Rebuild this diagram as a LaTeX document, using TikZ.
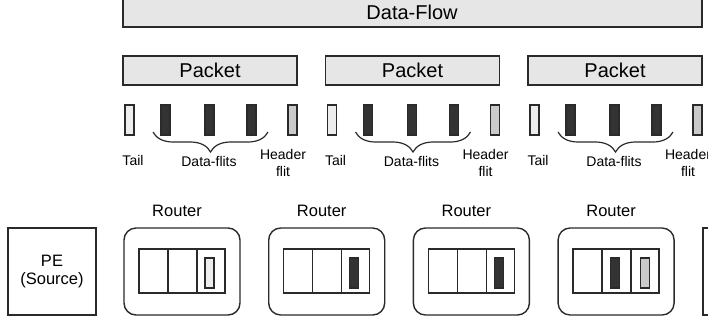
\documentclass[tikz,border=0pt]{standalone}
\usepackage{fontspec}
\setmainfont{Liberation Sans}
\usetikzlibrary{decorations.pathreplacing,patterns}
\definecolor{boxgray}{HTML}{E6E6E6}
\definecolor{edge}{HTML}{2A2A2A}
\definecolor{tailfill}{HTML}{EDEDED}
\definecolor{datafill}{HTML}{333333}
\definecolor{headfill}{HTML}{CACACA}
\begin{document}
\begin{tikzpicture}[x=1pt,y=-1pt,
  bigbox/.style={draw=edge,fill=boxgray,line width=1.4pt,inner sep=0pt,outer sep=0pt},
  flitbase/.style={draw=edge,line width=1.2pt,minimum width=9pt,minimum height=30pt,inner sep=0pt,outer sep=0pt},
  tailflit/.style={flitbase,fill=tailfill},
  dataflit/.style={flitbase,fill=datafill},
  headflit/.style={flitbase,fill=headfill},
  lbl/.style={font=\fontsize{14}{17}\selectfont,inner sep=0pt,align=center},
  rlbl/.style={font=\fontsize{16.5}{18}\selectfont,inner sep=0pt,align=center},
  bigtext/.style={font=\fontsize{20}{22}\selectfont,inner sep=0pt},
  router/.style={draw=edge,line width=1.4pt,rounded corners=12pt},
  plainbox/.style={draw=edge,line width=1.4pt},
  bracestyle/.style={draw=edge,line width=1.2pt,decorate,decoration={brace,mirror,amplitude=20pt}}
]
\useasboundingbox (0,0) rectangle (708,322);
\clip (0,0) rectangle (708,322);
% Data-Flow
\draw[bigbox] (123,-5) rectangle (702,27);
\node[bigtext] (df) at (412,12) {Data-Flow};
% Packets
\foreach \i/\o in {1/0,2/202.5,3/405}{
  \draw[bigbox] (123+\o,56) rectangle (297+\o,85);
  \node[bigtext] (pk\i) at (210+\o,70) {Packet};
  \node[tailflit] (t\i) at (129.5+\o,120) {};
  \node[dataflit] (da\i) at (165.5+\o,120) {};
  \node[dataflit] (db\i) at (209.5+\o,120) {};
  \node[dataflit] (dc\i) at (251.5+\o,120) {};
  \node[headflit] (h\i) at (292.5+\o,120) {};
  \draw[bracestyle] ([xshift=-12.5pt,yshift=3pt]da\i.south) -- ([xshift=16.5pt,yshift=3pt]dc\i.south);
  \node[lbl] (tl\i) at (133+\o,160) {Tail};
  \node[lbl] (dl\i) at (209+\o,161) {Data-flits};
  \node[lbl] (hl\i) at (283+\o,162.5) {Header\\flit};
}
% PE source
\draw[plainbox] (8,228) rectangle (96,315);
\node[rlbl] (pe) at (52,272) {PE\\(Source)};
% Routers
\foreach \i/\x in {1/124,2/268.7,3/413.4,4/558.1}{
  \draw[router] (\x,228) rectangle (\x+116,315);
  \node[rlbl] (rl\i) at (\x+53,211) {Router};
  \draw[plainbox] (\x+15,249) rectangle (\x+101,293);
  \draw[plainbox] (\x+44,249) -- (\x+44,293);
  \draw[plainbox] (\x+73,249) -- (\x+73,293);
}
\node[tailflit] (r1f) at (124+85.5,273) {};
\node[dataflit] (r2f) at (268.7+85.5,273) {};
\node[dataflit] (r3f) at (413.4+85.5,273) {};
\node[dataflit] (r4f) at (558.1+56.5,273) {};
\node[headflit] (r4h) at (558.1+86.5,273) {};
% PE destination (cut off)
\draw[plainbox] (703,228) rectangle (790,315);
\end{tikzpicture}
\end{document}
